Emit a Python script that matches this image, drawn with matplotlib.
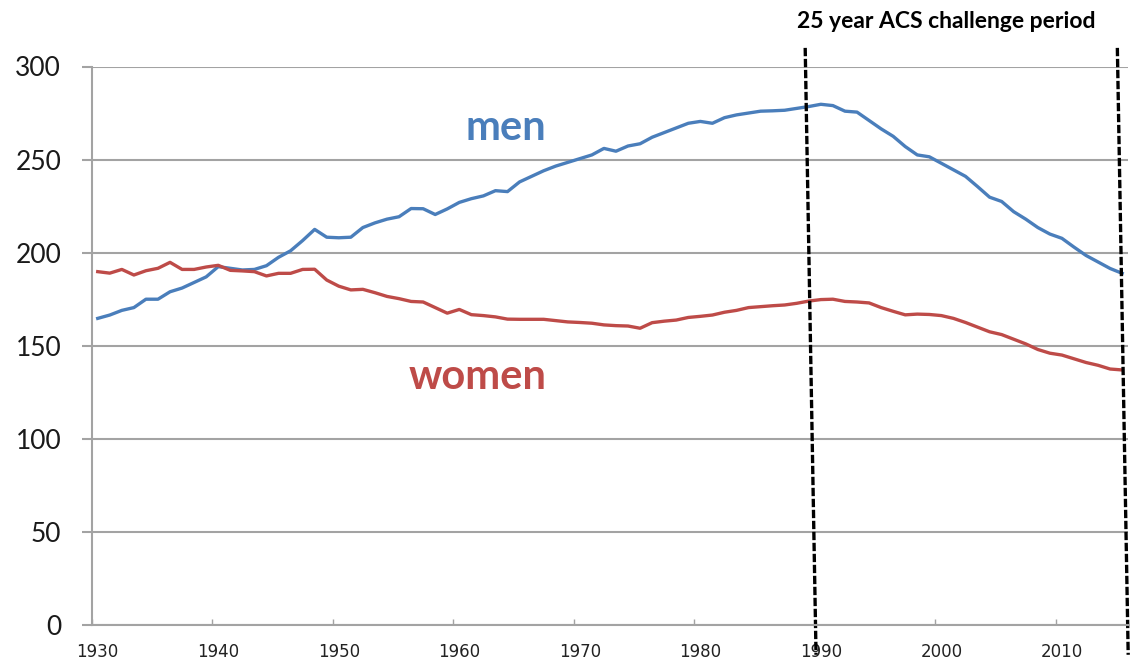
import matplotlib.pyplot as plt
import numpy as np

# Cancer death rates per 100,000, 1930-2015
years = list(range(1930, 2016))

men = [164.7, 166.5, 169.0, 170.5, 175.0, 175.0, 179.0, 181.0, 184.0, 187.0,
       192.5, 191.6, 190.7, 191.0, 193.0, 197.5, 201.0, 206.5, 212.5, 208.3,
       208.0, 208.3, 213.5, 216.0, 218.0, 219.3, 223.7, 223.6, 220.5, 223.5,
       227.0, 229.0, 230.5, 233.3, 232.8, 238.0, 241.0, 244.0, 246.5, 248.5,
       250.5, 252.5, 256.0, 254.5, 257.3, 258.5, 262.0, 264.5, 267.0, 269.5,
       270.5, 269.5, 272.5, 274.0, 275.0, 276.0, 276.2, 276.5, 277.5, 278.5,
       279.7, 279.0, 276.0, 275.5, 271.0, 266.5, 262.5, 257.0, 252.5, 251.5,
       248.0, 244.5, 241.0, 235.5, 229.8, 227.5, 222.0, 218.0, 213.5, 210.0,
       207.7, 203.0, 198.5, 195.0, 191.5, 188.9]

women = [189.8, 189.0, 191.0, 188.0, 190.3, 191.6, 194.8, 191.0, 191.0, 192.3,
         193.2, 190.5, 190.2, 189.8, 187.5, 188.9, 188.9, 191.0, 191.1, 185.3,
         182.0, 180.0, 180.3, 178.5, 176.5, 175.3, 173.8, 173.5, 170.5, 167.5,
         169.5, 166.7, 166.2, 165.5, 164.3, 164.2, 164.2, 164.2, 163.5, 162.8,
         162.5, 162.1, 161.2, 160.8, 160.6, 159.4, 162.4, 163.2, 163.8, 165.2,
         165.8, 166.5, 168.0, 169.0, 170.5, 171.0, 171.5, 171.9, 172.8, 174.0,
         174.8, 175.0, 173.8, 173.5, 173.0, 170.5, 168.5, 166.6, 167.0, 166.8,
         166.2, 164.7, 162.5, 160.0, 157.5, 156.0, 153.5, 151.0, 148.0, 146.0,
         145.0, 143.0, 141.0, 139.5, 137.5, 137.0]

year_labels = [1930, 1940, 1950, 1960, 1970, 1980, 1990, 2000, 2010]
y_ticks = [0, 50, 100, 150, 200, 250, 300]
period_bounds = [1989.5, 2015.4]

blue = '#4a7ebb'
red = '#be4b48'
grid_col = '#a3a3a3'

fig = plt.figure(figsize=(11.32, 6.64), dpi=100)
ax = fig.add_axes([91.7 / 1132, 39 / 664, 1036.5 / 1132, 558.5 / 664])

ax.plot(years, men, color=blue, lw=2.4, solid_joinstyle='round')
ax.plot(years, women, color=red, lw=2.4, solid_joinstyle='round')

ax.set_xlim(1929.5, 2015.5)
ax.set_ylim(0, 300)

# y axis: gridlines with outward ticks
ax.set_yticks(y_ticks)
ax.set_yticklabels([str(v) for v in y_ticks], fontsize=19, family='Lato', color='#1a1a1a')
ax.yaxis.grid(True, color=grid_col, lw=1.5)
ax.set_axisbelow(True)
ax.tick_params(axis='y', direction='out', length=7, width=1.5, color=grid_col, pad=15)

# x axis: labels on categories, small inward ticks between
ax.set_xticks(year_labels)
ax.set_xticklabels([str(y) for y in year_labels], fontsize=12, family='DejaVu Sans', color='#222222')
ax.tick_params(axis='x', length=0, pad=13)
ax.set_xticks([y - 0.5 for y in year_labels], minor=True)
ax.tick_params(axis='x', which='minor', direction='in', length=4, width=1, color=grid_col)

for side in ['top', 'right']:
    ax.spines[side].set_visible(False)
ax.spines['left'].set_color(grid_col)
ax.spines['left'].set_linewidth(1.5)
ax.spines['bottom'].set_color(grid_col)
ax.spines['bottom'].set_linewidth(1.5)

# series labels
ax.text(1963.9, 267, 'men', color=blue, fontsize=30, fontweight='bold',
        family='Lato', ha='center', va='center')
ax.text(1961.5, 133, 'women', color=red, fontsize=30, fontweight='bold',
        family='Lato', ha='center', va='center')

# hand-drawn period lines (slightly slanted)
for x in period_bounds:
    ax.plot([x - 0.8, x + 0.1], [310, -16], color='black', lw=2.4,
            linestyle=(0, (2.5, 0.8)), clip_on=False)

fig.text(946 / 1132, 1 - 22 / 664, '25 year ACS challenge period', fontsize=16.5,
         fontweight='bold', family='Lato', ha='center', va='center')

fig.savefig('out.png', dpi=100)
